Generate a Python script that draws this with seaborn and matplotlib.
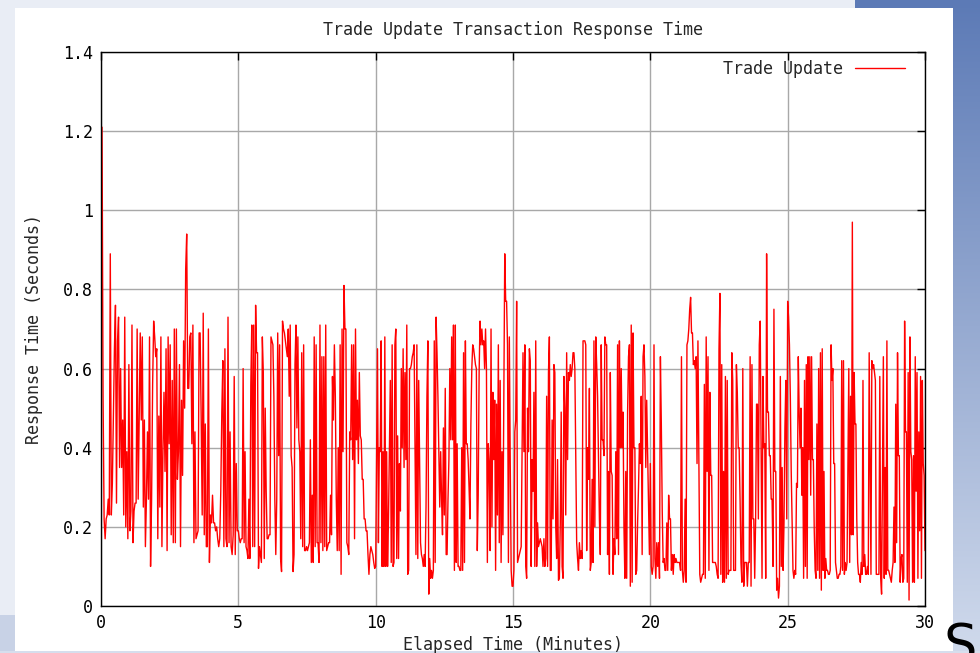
import numpy as np
import pandas as pd
import matplotlib
matplotlib.use("Agg")
import matplotlib.pyplot as plt
import seaborn as sns

# ---------------- data ----------------
title = "Trade Update Transaction Response Time"
series_name = "Trade Update"
x_label = "Elapsed Time (Minutes)"
y_label = "Response Time (Seconds)"
x_ticks = [0, 5, 10, 15, 20, 25, 30]
y_ticks = [0, 0.2, 0.4, 0.6, 0.8, 1.0, 1.2, 1.4]
y_tick_labels = ["0", "0.2", "0.4", "0.6", "0.8", "1", "1.2", "1.4"]

# response time samples (seconds), one list per 5-minute block
seg_00_05 = [0.53, 1.21, 0.53, 0.22, 0.17, 0.22, 0.23, 0.27, 0.23, 0.89, 0.23, 0.31, 0.48, 0.65, 0.76, 0.26,
             0.67, 0.73, 0.35, 0.60, 0.35, 0.47, 0.23, 0.73, 0.20, 0.39, 0.17, 0.61, 0.19, 0.24, 0.71, 0.16,
             0.24, 0.26, 0.26, 0.70, 0.27, 0.47, 0.69, 0.47, 0.68, 0.25, 0.47, 0.15, 0.27, 0.44, 0.27, 0.68,
             0.10, 0.27, 0.56, 0.72, 0.68, 0.63, 0.65, 0.17, 0.48, 0.25, 0.68, 0.15, 0.39, 0.54, 0.34, 0.65,
             0.14, 0.68, 0.41, 0.66, 0.18, 0.57, 0.16, 0.70, 0.16, 0.70, 0.32, 0.39, 0.61, 0.15, 0.52, 0.33,
             0.67, 0.50, 0.85, 0.94, 0.55, 0.55, 0.68, 0.69, 0.41, 0.71, 0.16, 0.44, 0.17, 0.18, 0.19, 0.69,
             0.69, 0.48, 0.23, 0.74, 0.18, 0.46, 0.15, 0.15, 0.70, 0.11, 0.23, 0.21, 0.28, 0.21, 0.21, 0.19,
             0.20, 0.17, 0.15, 0.17, 0.29, 0.49, 0.62, 0.15, 0.65, 0.17, 0.15, 0.73, 0.16, 0.44, 0.15, 0.13,
             0.18, 0.58, 0.13, 0.36, 0.19]
seg_05_10 = [0.19, 0.17, 0.16, 0.17, 0.17, 0.60, 0.16, 0.39, 0.15, 0.14, 0.12, 0.27, 0.12, 0.56, 0.71, 0.15,
             0.71, 0.15, 0.76, 0.64, 0.64, 0.095, 0.15, 0.13, 0.11, 0.68, 0.59, 0.12, 0.50, 0.29, 0.17, 0.17,
             0.18, 0.18, 0.68, 0.67, 0.66, 0.53, 0.27, 0.13, 0.27, 0.69, 0.38, 0.66, 0.12, 0.087, 0.72, 0.70,
             0.69, 0.67, 0.65, 0.63, 0.70, 0.53, 0.71, 0.38, 0.35, 0.087, 0.13, 0.61, 0.71, 0.45, 0.68, 0.42,
             0.39, 0.17, 0.64, 0.15, 0.66, 0.14, 0.14, 0.15, 0.14, 0.15, 0.16, 0.42, 0.11, 0.28, 0.11, 0.68,
             0.15, 0.66, 0.16, 0.16, 0.11, 0.71, 0.16, 0.63, 0.14, 0.63, 0.15, 0.71, 0.14, 0.15, 0.16, 0.16,
             0.28, 0.18, 0.58, 0.47, 0.66, 0.53, 0.27, 0.14, 0.40, 0.14, 0.66, 0.08, 0.70, 0.39, 0.81, 0.70,
             0.70, 0.16, 0.15, 0.13, 0.44, 0.42, 0.66, 0.37, 0.66, 0.17, 0.70, 0.42, 0.52, 0.36, 0.59, 0.43,
             0.42, 0.32, 0.32, 0.22, 0.22, 0.19, 0.19, 0.13, 0.08, 0.13, 0.15, 0.14, 0.13, 0.11, 0.095]
seg_10_15 = [0.10, 0.39, 0.65, 0.16, 0.40, 0.39, 0.67, 0.10, 0.39, 0.10, 0.68, 0.10, 0.39, 0.10, 0.22, 0.39,
             0.57, 0.11, 0.66, 0.10, 0.11, 0.66, 0.70, 0.12, 0.43, 0.12, 0.36, 0.24, 0.60, 0.40, 0.65, 0.35,
             0.59, 0.37, 0.71, 0.08, 0.09, 0.60, 0.60, 0.61, 0.63, 0.64, 0.66, 0.39, 0.13, 0.66, 0.12, 0.57,
             0.37, 0.16, 0.13, 0.12, 0.10, 0.13, 0.10, 0.25, 0.53, 0.67, 0.03, 0.12, 0.07, 0.09, 0.07, 0.09,
             0.67, 0.11, 0.73, 0.64, 0.53, 0.39, 0.25, 0.39, 0.27, 0.18, 0.45, 0.23, 0.55, 0.13, 0.13, 0.27,
             0.37, 0.60, 0.42, 0.68, 0.42, 0.71, 0.09, 0.71, 0.11, 0.41, 0.10, 0.10, 0.09, 0.09, 0.40, 0.09,
             0.64, 0.11, 0.67, 0.41, 0.41, 0.37, 0.30, 0.22, 0.46, 0.60, 0.66, 0.65, 0.63, 0.61, 0.60, 0.14,
             0.28, 0.59, 0.72, 0.66, 0.70, 0.66, 0.67, 0.60, 0.70, 0.60, 0.11, 0.41, 0.36, 0.14, 0.70, 0.20,
             0.54, 0.37, 0.52, 0.09, 0.51, 0.23, 0.66, 0.16, 0.57, 0.11, 0.39, 0.18, 0.53, 0.89, 0.77, 0.77,
             0.66, 0.11, 0.68, 0.36, 0.09, 0.05]
seg_15_20 = [0.05, 0.09, 0.44, 0.47, 0.77, 0.11, 0.12, 0.13, 0.14, 0.15, 0.39, 0.64, 0.39, 0.66, 0.10, 0.07,
             0.50, 0.39, 0.65, 0.62, 0.10, 0.37, 0.29, 0.54, 0.10, 0.67, 0.10, 0.21, 0.15, 0.16, 0.17, 0.16,
             0.15, 0.10, 0.17, 0.10, 0.12, 0.53, 0.10, 0.59, 0.68, 0.09, 0.09, 0.47, 0.22, 0.61, 0.59, 0.20,
             0.12, 0.37, 0.065, 0.07, 0.21, 0.49, 0.10, 0.07, 0.58, 0.50, 0.23, 0.64, 0.37, 0.59, 0.57, 0.61,
             0.58, 0.60, 0.64, 0.64, 0.60, 0.38, 0.16, 0.12, 0.09, 0.16, 0.12, 0.14, 0.12, 0.67, 0.67, 0.67,
             0.66, 0.14, 0.40, 0.32, 0.55, 0.09, 0.11, 0.32, 0.11, 0.67, 0.20, 0.68, 0.61, 0.53, 0.38, 0.22,
             0.13, 0.66, 0.42, 0.42, 0.38, 0.68, 0.66, 0.66, 0.13, 0.34, 0.08, 0.59, 0.34, 0.33, 0.08, 0.17,
             0.13, 0.39, 0.17, 0.66, 0.13, 0.67, 0.40, 0.60, 0.40, 0.49, 0.20, 0.07, 0.34, 0.07, 0.49, 0.63,
             0.66, 0.05, 0.71, 0.06, 0.69, 0.40, 0.40, 0.08, 0.09, 0.21, 0.30, 0.41, 0.36, 0.53, 0.13, 0.63,
             0.66, 0.58, 0.35, 0.52, 0.39, 0.26, 0.13]
seg_20_25 = [0.36, 0.10, 0.08, 0.10, 0.66, 0.12, 0.07, 0.16, 0.10, 0.16, 0.07, 0.63, 0.46, 0.24, 0.11, 0.12,
             0.09, 0.09, 0.21, 0.09, 0.28, 0.22, 0.22, 0.09, 0.13, 0.08, 0.13, 0.11, 0.12, 0.11, 0.11, 0.11,
             0.11, 0.09, 0.63, 0.09, 0.06, 0.09, 0.27, 0.06, 0.66, 0.67, 0.70, 0.75, 0.78, 0.69, 0.69, 0.61,
             0.62, 0.60, 0.63, 0.36, 0.67, 0.36, 0.08, 0.06, 0.07, 0.08, 0.08, 0.56, 0.07, 0.68, 0.34, 0.63,
             0.09, 0.54, 0.33, 0.33, 0.11, 0.11, 0.11, 0.11, 0.10, 0.08, 0.07, 0.65, 0.79, 0.08, 0.61, 0.06,
             0.34, 0.06, 0.58, 0.07, 0.57, 0.08, 0.09, 0.09, 0.09, 0.64, 0.57, 0.09, 0.09, 0.09, 0.61, 0.54,
             0.40, 0.40, 0.27, 0.11, 0.06, 0.60, 0.05, 0.11, 0.11, 0.11, 0.05, 0.11, 0.11, 0.63, 0.05, 0.61,
             0.22, 0.22, 0.07, 0.22, 0.51, 0.51, 0.22, 0.66, 0.72, 0.41, 0.07, 0.58, 0.40, 0.41, 0.07, 0.89,
             0.49, 0.49, 0.38, 0.38, 0.27, 0.27, 0.10, 0.75, 0.34, 0.34, 0.04, 0.07, 0.02, 0.05, 0.58, 0.10,
             0.35, 0.09, 0.21, 0.45, 0.57, 0.22]
seg_25_30 = [0.77, 0.73, 0.66, 0.53, 0.34, 0.22, 0.09, 0.07, 0.09, 0.08, 0.31, 0.30, 0.63, 0.49, 0.40, 0.50,
             0.28, 0.40, 0.07, 0.57, 0.10, 0.61, 0.07, 0.63, 0.37, 0.63, 0.28, 0.63, 0.37, 0.37, 0.19, 0.09,
             0.07, 0.46, 0.09, 0.60, 0.07, 0.64, 0.04, 0.65, 0.09, 0.34, 0.07, 0.12, 0.09, 0.09, 0.08, 0.08,
             0.09, 0.66, 0.57, 0.60, 0.36, 0.36, 0.11, 0.09, 0.07, 0.07, 0.08, 0.08, 0.10, 0.62, 0.09, 0.62,
             0.08, 0.11, 0.09, 0.11, 0.35, 0.60, 0.11, 0.53, 0.18, 0.97, 0.18, 0.59, 0.46, 0.46, 0.22, 0.11,
             0.08, 0.08, 0.06, 0.11, 0.08, 0.57, 0.10, 0.13, 0.08, 0.08, 0.10, 0.08, 0.64, 0.36, 0.08, 0.62,
             0.60, 0.61, 0.59, 0.57, 0.08, 0.08, 0.08, 0.08, 0.58, 0.07, 0.03, 0.35, 0.63, 0.07, 0.35, 0.08,
             0.67, 0.09, 0.09, 0.08, 0.07, 0.06, 0.09, 0.11, 0.25, 0.11, 0.51, 0.16, 0.64, 0.38, 0.38, 0.06,
             0.12, 0.13, 0.06, 0.07, 0.72, 0.44, 0.44, 0.06, 0.59, 0.015, 0.68, 0.39, 0.37, 0.06, 0.38, 0.06,
             0.63, 0.29, 0.59, 0.07, 0.44, 0.19, 0.58, 0.07, 0.57, 0.36, 0.33, 0.14]
segments = [seg_00_05, seg_05_10, seg_10_15, seg_15_20, seg_20_25, seg_25_30]
segment_starts = [0, 5, 10, 15, 20, 25]
segment_length = 5

# sample times: evenly spaced within each 5-minute block
times, values = [], []
for i, (start, seg) in enumerate(zip(segment_starts, segments)):
    last = i == len(segments) - 1
    times.extend(np.linspace(start, start + segment_length, len(seg), endpoint=last))
    values.extend(seg)
df = pd.DataFrame({"minutes": times, "seconds": values})

# ---------------- figure ----------------
sns.set_style("white")
plt.rcParams["font.family"] = ["DejaVu Sans Mono", "DejaVu Sans"]

W, H = 980, 653
fig = plt.figure(figsize=(W / 100, H / 100), dpi=100)

# slide background behind the chart picture
bg = np.ones((H, W, 3))
light = np.array([233, 237, 245]) / 255
bg[:, :] = light
top_blue = np.array([92, 122, 182]) / 255
bottom_blue = np.array([208, 218, 236]) / 255
frac = np.linspace(0, 1, H)[:, None]
strip = top_blue * (1 - frac) + bottom_blue * frac
bg[:, 953:] = strip[:, None, :]
bg[:8, 855:] = top_blue
bg[615:, :15] = np.array([200, 210, 230]) / 255
bg[651:, :] = np.array([214, 222, 237]) / 255
bg[8:651, 15:953] = 1.0
fig.figimage(bg, 0, 0, origin="upper", zorder=-10)

# fragment of the slide's own lettering peeking out at the bottom-right
fig.text(960 / W, 1 - 621 / H, "S", fontsize=38, color="black", ha="center", va="top",
         family="DejaVu Sans", zorder=-5)

ax = fig.add_axes([101 / W, 1 - 606 / H, 824 / W, 554 / H])
ax.set_facecolor("white")

sns.lineplot(data=df, x="minutes", y="seconds", color="#ff0000", linewidth=1.0,
             estimator=None, sort=False, ax=ax, label=series_name)

fs = 12
ax.set_xlim(0, 30)
ax.set_ylim(0, 1.4)
ax.set_xticks(x_ticks)
ax.set_xticklabels([str(t) for t in x_ticks])
ax.set_yticks(y_ticks)
ax.set_yticklabels(y_tick_labels)
ax.grid(True, color="#a8a8a8", linewidth=1.0)
ax.set_axisbelow(True)
for s in ax.spines.values():
    s.set_color("black")
    s.set_linewidth(1.0)
    s.set_visible(True)
ax.tick_params(direction="in", length=6, width=1, top=True, right=True,
               labelsize=fs, pad=6, colors="black")

ax.set_title(title, fontsize=fs, pad=12)
ax.set_xlabel(x_label, fontsize=fs, labelpad=3)
ax.set_ylabel(y_label, fontsize=fs, labelpad=14)

leg = ax.legend(loc="upper right", frameon=False, fontsize=fs, markerfirst=False,
                handlelength=3.0, handletextpad=0.7, bbox_to_anchor=(0.994, 1.013))

fig.savefig("out.png", dpi=100)
